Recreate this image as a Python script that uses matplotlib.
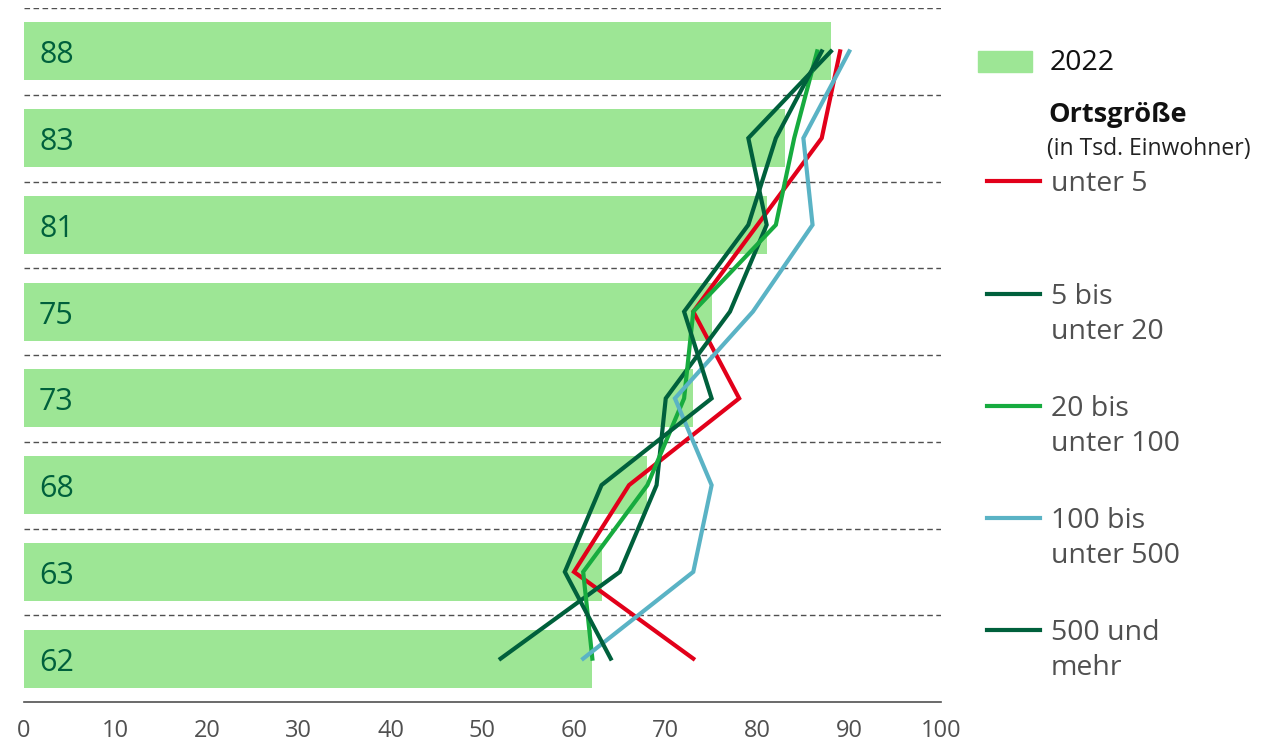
import numpy as np
import matplotlib.pyplot as plt
from matplotlib.lines import Line2D
from matplotlib.patches import Rectangle

plt.rcParams['font.family'] = ['Open Sans', 'DejaVu Sans']

# Balken: Werte 2022 je Zeile (oben nach unten)
bar_values = [88, 83, 81, 75, 73, 68, 63, 62]

# Linien je Ortsgröße, gleiche Zeilenreihenfolge
unter_5 = [89, 87, 80, 73, 78, 66, 60, 73]
bis_20 = [88, 79, 81, 77, 70, 69, 65, 52]
bis_100 = [86.5, 84, 82, 73, 72, 68, 61, 62]
bis_500 = [90, 85, 86, 79.5, 71, 75, 73, 61]
ab_500 = [87, 82, 79, 72, 75, 63, 59, 64]

series_labels = ["unter 5", "5 bis\nunter 20", "20 bis\nunter 100",
                 "100 bis\nunter 500", "500 und\nmehr"]
x_ticks = [0, 10, 20, 30, 40, 50, 60, 70, 80, 90, 100]

BAR = "#9de695"
RED = "#e2001a"
DKGREEN = "#00603c"
GREEN = "#17ab3f"
BLUE = "#5ab3c5"
GRAY = "#505050"

W, H = 1265, 747
fig = plt.figure(figsize=(W / 100, H / 100), dpi=100)
ax = fig.add_axes([23.5 / W, (H - 702) / H, (941 - 23.5) / W, (702 - 8) / H])

rows = np.arange(len(bar_values))
ax.barh(rows, bar_values, height=0.67, color=BAR, zorder=1)
for r, v in zip(rows, bar_values):
    ax.text(1.7, r + 0.045, str(v), va="center", ha="left", fontsize=22,
            color=DKGREEN, zorder=2)

# gestrichelte Trennlinien zwischen den Zeilen
for b in np.arange(-0.5, len(rows) - 1, 1):
    ax.axhline(b, color=GRAY, lw=1, ls=(0, (4, 2.5)), zorder=0)

series = [unter_5, bis_20, bis_100, bis_500, ab_500]
colors = [RED, DKGREEN, GREEN, BLUE, DKGREEN]
for vals, c in zip(series, colors):
    ax.plot(vals, rows, color=c, lw=3, solid_joinstyle="miter", zorder=3)

ax.set_xlim(0, 100)
ax.set_ylim(len(rows) - 0.5, -0.5)
ax.set_xticks(x_ticks)
ax.set_yticks([])
ax.tick_params(axis="x", length=0, pad=12, labelsize=17, labelcolor=GRAY)
for s in ["top", "left", "right"]:
    ax.spines[s].set_visible(False)
ax.spines["bottom"].set_color(GRAY)
ax.spines["bottom"].set_linewidth(1.2)


def fx(px):
    return px / W


def fy(py):
    return 1 - py / H


# Legende rechts
fig.add_artist(Rectangle((fx(978), fy(72)), fx(54), 21 / H, color=BAR,
                         transform=fig.transFigure))
fig.text(fx(1050), fy(63), "2022", fontsize=20.5, va="center", color="#111111")
fig.text(fx(1048), fy(115), "Ortsgröße", fontsize=19.5, fontweight="bold",
         va="center", color="#111111")
fig.text(fx(1047), fy(149), "(in Tsd. Einwohner)", fontsize=16.5,
         va="center", color="#222222")

legend_y = [181, 294, 406, 518, 630]
for y, c, lab in zip(legend_y, colors, series_labels):
    fig.add_artist(Line2D([fx(987), fx(1040)], [fy(y), fy(y)], color=c,
                          lw=3, transform=fig.transFigure))
    for i, line in enumerate(lab.split("\n")):
        fig.text(fx(1051), fy(y + 3 + 35 * i), line, fontsize=20.5,
                 va="center", color=GRAY)

fig.savefig("out.png", dpi=100)
